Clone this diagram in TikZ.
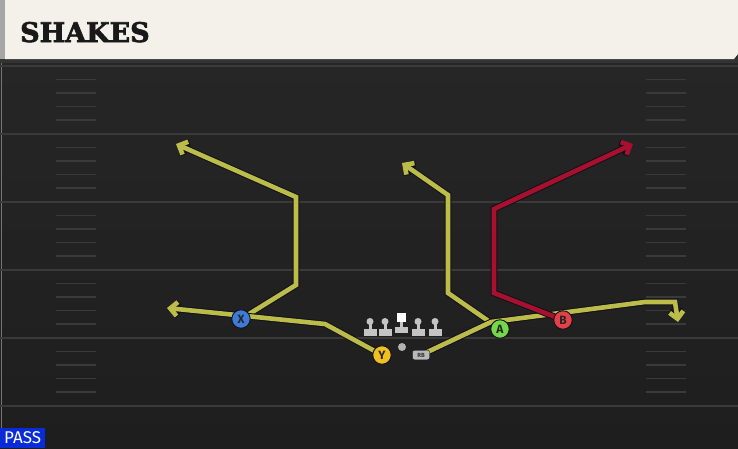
\documentclass[tikz,border=0pt]{standalone}
\usepackage{fontspec}
\setmainfont{Fira Sans}
\newfontfamily\slabfont{DejaVu Serif}[FakeBold=2.5]
\usetikzlibrary{arrows.meta}

\definecolor{fieldtop}{HTML}{262626}
\definecolor{fieldbot}{HTML}{1E1E1E}
\definecolor{gridgray}{HTML}{3A3A3A}
\definecolor{cream}{HTML}{F4F1EA}
\definecolor{routeyel}{HTML}{BCBC4A}
\definecolor{routered}{HTML}{A8102F}
\definecolor{outline}{HTML}{111118}
\definecolor{xblue}{HTML}{3F7AD9}
\definecolor{ygold}{HTML}{F0C020}
\definecolor{agreen}{HTML}{74D84A}
\definecolor{bred}{HTML}{E5404A}
\definecolor{passblue}{HTML}{0A2BD8}
\definecolor{olgray}{HTML}{C4C4C4}

\pgfdeclarelayer{field}
\pgfdeclarelayer{lines}
\pgfsetlayers{field,lines,main}

\def\yardtop{66}
\def\yardstep{68}

\begin{document}
\begin{tikzpicture}[x=1pt, y=-1pt, line cap=butt,
                    yardline/.style={draw=gridgray, line width=1.8pt},
                    hashmark/.style={draw=gridgray, line width=1.3pt},
                    route/.style={draw=routeyel, line width=4.6pt, line join=miter,
                                  preaction={draw=outline, line width=6.6pt}},
                    routetip/.style={-{Straight Barb[length=7pt,width=14pt]}},
                    player/.style={circle, draw=outline, line width=0.9pt,
                                   minimum size=18.5pt, inner sep=0pt, text=black!85,
                                   font=\bfseries\fontsize{12}{12}\selectfont}
                   ]
\useasboundingbox (0,0) rectangle (738,448);

\begin{pgfonlayer}{field}
  \fill [fieldtop] (0,0) rectangle (738,448);
  \shade [top color=fieldtop, bottom color=fieldbot] (0,60) rectangle (738,448);
  \draw [gridgray!70, line width=1pt] (1.5,60) -- (1.5,448);
  \foreach \k [evaluate={\yy=\yardtop+\k*\yardstep;}] in {0,...,5}{
    \draw [yardline] (0,\yy) -- (738,\yy);
    \ifnum\k<5
      \foreach \j in {1,...,4}{
        \draw [hashmark] (56,\yy+13.5*\j) -- (96,\yy+13.5*\j);
        \draw [hashmark] (646,\yy+13.5*\j) -- (686,\yy+13.5*\j);
      }
    \fi
  }
  % title bar
  \fill [black!80] (0,58) rectangle (738,63);
  \fill [cream] (5,0) -- (738,0) -- (738,54) -- (734,59) -- (5,59) -- cycle;
  \fill [gray!70] (0,0) rectangle (5,59);
\end{pgfonlayer}

\node [anchor=base west, inner sep=0pt, text=black!90,
       font=\slabfont\bfseries\fontsize{27}{27}\selectfont] (title) at (20,42) {SHAKES};

% line
\foreach \lx in {370,385,418,435}{
  \fill [olgray] (\lx,321.5) circle (3.5);
  \fill [olgray] (\lx-1.5,324) rectangle (\lx+1.5,330);
  \fill [olgray] (\lx-6.5,329) rectangle (\lx+6.5,336);
}
\fill [white] (397,313) rectangle (406,322);
\fill [olgray] (400,322) rectangle (403,327);
\fill [olgray] (395,327) rectangle (408,333);

\node [circle, fill=gray!60, minimum size=8pt, inner sep=0pt] (ball) at (402,347) {};
\node [draw=outline, fill=gray!55, rounded corners=2pt, minimum width=17pt,
       minimum height=9.5pt, inner sep=0pt, text=black!80,
       font=\bfseries\fontsize{6}{6}\selectfont] (RB) at (421,355) {RB};

\node [player, fill=xblue]  (X) at (241,319) {X};
\node [player, fill=ygold]  (Y) at (382,355) {Y};
\node [player, fill=agreen] (A) at (500,329) {A};
\node [player, fill=bred]   (B) at (563,320) {B};

\coordinate (xend) at (176,144);
\coordinate (yend) at (167,308);
\coordinate (aend) at (402,163);
\coordinate (bend) at (633,144);
\coordinate (rbend) at (678,322);

\begin{pgfonlayer}{lines}
  \draw [route, routetip] (X.center) -- (296,285) -- (296,197) -- (xend);
  \draw [route, routetip] (Y.center) -- (325,324) -- (yend);
  \draw [route, routetip] (A.center) -- (448,293) -- (448,195) -- (aend);
  \draw [route, routetip] (RB.center) -- (491,322) -- (645,302) -- (675,302) -- (rbend);
  \draw [route, draw=routered, routetip] (B.center) -- (494,293) -- (494,209) -- (bend);
\end{pgfonlayer}

\node [fill=passblue, text=white, anchor=south west, minimum width=45pt,
       minimum height=20pt, inner sep=0pt,
       font=\fontsize{17}{17}\selectfont] (pass) at (0,448) {PASS};
\end{tikzpicture}
\end{document}
